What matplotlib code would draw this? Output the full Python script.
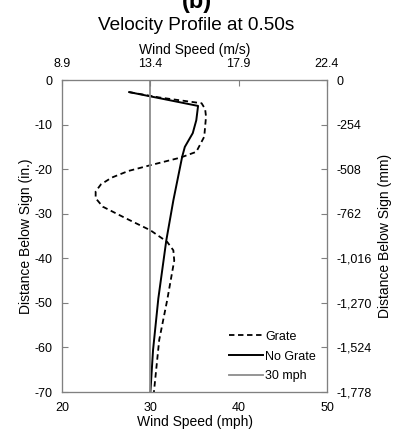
import matplotlib
matplotlib.use("Agg")
import matplotlib.pyplot as plt

plt.rcParams['font.family'] = ['Liberation Sans', 'DejaVu Sans']
plt.rcParams['axes.unicode_minus'] = False

# wind speed (mph) vs distance below sign (in.)
grate_speed = [27.6, 31.0, 35.8, 36.2, 36.3, 36.1, 35.2, 33.4, 30.0, 27.5, 25.6, 24.4, 23.8, 23.8, 24.6, 27.2, 30.0, 31.9, 32.6, 32.7, 31.9, 31.0, 30.4]
grate_depth = [-2.7, -3.9, -5.2, -6.5, -8.2, -12.7, -16.1, -17.4, -19.1, -20.4, -21.9, -23.4, -25.0, -26.5, -28.4, -31.0, -33.7, -36.3, -38.2, -40.5, -49.4, -58.3, -70.0]
nograte_speed = [27.6, 35.4, 35.2, 34.8, 33.9, 33.6, 32.6, 31.8, 30.9, 30.3, 30.0]
nograte_depth = [-2.7, -5.8, -9.0, -11.9, -15.0, -17.2, -27.0, -36.0, -49.0, -60.6, -70.0]
ref_speed = 30

mph_ticks = [20, 30, 40, 50]
ms_labels = ['8.9', '13.4', '17.9', '22.4']
in_ticks = [0, -10, -20, -30, -40, -50, -60, -70]
mm_labels = ['0', '-254', '-508', '-762', '-1,016', '-1,270', '-1,524', '-1,778']

fig = plt.figure(figsize=(3.93, 4.40), dpi=100)
ax = fig.add_axes([0.158, 0.109, 0.674, 0.709])

ax.plot(grate_speed, grate_depth, color='black', lw=1.3, ls=(0, (3, 2)), label='Grate')
ax.plot(nograte_speed, nograte_depth, color='black', lw=1.4, label='No Grate')
ax.axvline(ref_speed, color='#8c8c8c', lw=1.3, label='30 mph')

ax.set_xlim(20, 50)
ax.set_ylim(-70, 0)
ax.set_xticks(mph_ticks)
ax.set_yticks(in_ticks)
ax.tick_params(axis='x', length=0, labelsize=9, pad=7)
ax.tick_params(axis='y', direction='in', length=4, color='#808080', labelsize=9, pad=7)
ax.set_xlabel('Wind Speed (mph)', fontsize=10, labelpad=1)
ax.set_ylabel('Distance Below Sign (in.)', fontsize=10, labelpad=1)
for s in ax.spines.values():
    s.set_color('#808080')

top = ax.twiny()
top.set_xlim(20, 50)
top.set_xticks(mph_ticks)
top.set_xticklabels(ms_labels)
top.tick_params(axis='x', direction='in', length=4, color='#808080', labelsize=9, pad=7)
top.set_xlabel('Wind Speed (m/s)', fontsize=10, labelpad=3)

right = ax.twinx()
right.set_ylim(-70, 0)
right.set_yticks(in_ticks)
right.set_yticklabels(mm_labels)
right.tick_params(axis='y', direction='in', length=4, color='#808080', labelsize=9, pad=7)
right.set_ylabel('Distance Below Sign (mm)', fontsize=10, labelpad=4)
for a in (top, right):
    for s in a.spines.values():
        s.set_color('#808080')

ax.legend(loc='lower right', bbox_to_anchor=(1.0, -0.005), frameon=False, fontsize=9,
          handlelength=2.7, handletextpad=0.15, labelspacing=0.62)

fig.text(0.5, 1.0 - 25 / 440, 'Velocity Profile at 0.50s', ha='center', va='center', fontsize=13.7)
fig.text(0.5, 0.982, '(b)', ha='center', va='baseline', fontsize=17, fontweight='bold')

fig.savefig('out.png', dpi=100)
